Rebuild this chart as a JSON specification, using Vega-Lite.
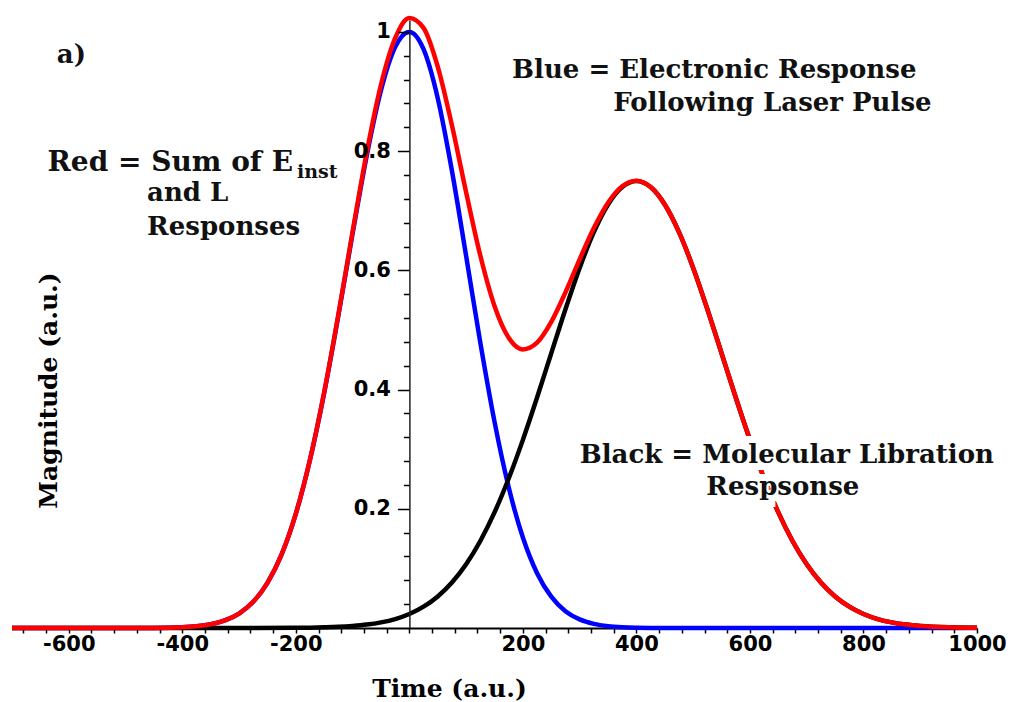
{
  "$schema": "https://vega.github.io/schema/vega-lite/v6.json",
  "width": 965,
  "height": 608,
  "autosize": {"type": "none"},
  "padding": {"left": 12, "top": 20, "right": 36, "bottom": 74},
  "background": "white",
  "config": {"view": {"stroke": null}},
  "datasets": {
    "curves": [
      {"s": "blue", "t": -700, "v": 0}, {"s": "blue", "t": -600, "v": 0}, {"s": "blue", "t": -500, "v": 0}, {"s": "blue", "t": -450, "v": 0.0002},
      {"s": "blue", "t": -400, "v": 0.0013}, {"s": "blue", "t": -375, "v": 0.003}, {"s": "blue", "t": -350, "v": 0.0063}, {"s": "blue", "t": -325, "v": 0.0127},
      {"s": "blue", "t": -300, "v": 0.0243}, {"s": "blue", "t": -275, "v": 0.0439}, {"s": "blue", "t": -250, "v": 0.0756}, {"s": "blue", "t": -225, "v": 0.1234},
      {"s": "blue", "t": -200, "v": 0.1915}, {"s": "blue", "t": -175, "v": 0.2821}, {"s": "blue", "t": -150, "v": 0.3946}, {"s": "blue", "t": -125, "v": 0.5243},
      {"s": "blue", "t": -100, "v": 0.6615}, {"s": "blue", "t": -75, "v": 0.7926}, {"s": "blue", "t": -50, "v": 0.9018}, {"s": "blue", "t": -25, "v": 0.9745},
      {"s": "blue", "t": 0, "v": 1}, {"s": "blue", "t": 25, "v": 0.971}, {"s": "blue", "t": 50, "v": 0.8889}, {"s": "blue", "t": 75, "v": 0.7671},
      {"s": "blue", "t": 100, "v": 0.6242}, {"s": "blue", "t": 125, "v": 0.4788}, {"s": "blue", "t": 150, "v": 0.3463}, {"s": "blue", "t": 175, "v": 0.2361},
      {"s": "blue", "t": 200, "v": 0.1518}, {"s": "blue", "t": 225, "v": 0.092}, {"s": "blue", "t": 250, "v": 0.0526}, {"s": "blue", "t": 275, "v": 0.0283},
      {"s": "blue", "t": 300, "v": 0.0144}, {"s": "blue", "t": 325, "v": 0.0069}, {"s": "blue", "t": 350, "v": 0.0031}, {"s": "blue", "t": 375, "v": 0.0013},
      {"s": "blue", "t": 400, "v": 0.0005}, {"s": "blue", "t": 450, "v": 0}, {"s": "blue", "t": 500, "v": 0}, {"s": "blue", "t": 600, "v": 0},
      {"s": "blue", "t": 700, "v": 0}, {"s": "blue", "t": 800, "v": 0}, {"s": "blue", "t": 900, "v": 0}, {"s": "blue", "t": 1000, "v": 0},

      {"s": "black", "t": -700, "v": 0}, {"s": "black", "t": -600, "v": 0}, {"s": "black", "t": -500, "v": 0}, {"s": "black", "t": -400, "v": 0},
      {"s": "black", "t": -300, "v": 0}, {"s": "black", "t": -200, "v": 0.0003}, {"s": "black", "t": -175, "v": 0.0006}, {"s": "black", "t": -150, "v": 0.0011},
      {"s": "black", "t": -125, "v": 0.0019}, {"s": "black", "t": -100, "v": 0.0034}, {"s": "black", "t": -75, "v": 0.0057}, {"s": "black", "t": -50, "v": 0.0094},
      {"s": "black", "t": -25, "v": 0.015}, {"s": "black", "t": 0, "v": 0.0235}, {"s": "black", "t": 25, "v": 0.0358}, {"s": "black", "t": 50, "v": 0.0529},
      {"s": "black", "t": 75, "v": 0.0763}, {"s": "black", "t": 100, "v": 0.1069}, {"s": "black", "t": 125, "v": 0.146}, {"s": "black", "t": 150, "v": 0.1939},
      {"s": "black", "t": 175, "v": 0.2508}, {"s": "black", "t": 200, "v": 0.3156}, {"s": "black", "t": 225, "v": 0.3866}, {"s": "black", "t": 250, "v": 0.4609},
      {"s": "black", "t": 275, "v": 0.5348}, {"s": "black", "t": 300, "v": 0.6041}, {"s": "black", "t": 325, "v": 0.664}, {"s": "black", "t": 350, "v": 0.7105},
      {"s": "black", "t": 375, "v": 0.7399}, {"s": "black", "t": 400, "v": 0.75}, {"s": "black", "t": 425, "v": 0.7399}, {"s": "black", "t": 450, "v": 0.7105},
      {"s": "black", "t": 475, "v": 0.664}, {"s": "black", "t": 500, "v": 0.6041}, {"s": "black", "t": 525, "v": 0.5348}, {"s": "black", "t": 550, "v": 0.4609},
      {"s": "black", "t": 575, "v": 0.3866}, {"s": "black", "t": 600, "v": 0.3156}, {"s": "black", "t": 625, "v": 0.2508}, {"s": "black", "t": 650, "v": 0.1939},
      {"s": "black", "t": 675, "v": 0.146}, {"s": "black", "t": 700, "v": 0.1069}, {"s": "black", "t": 725, "v": 0.0763}, {"s": "black", "t": 750, "v": 0.0529},
      {"s": "black", "t": 775, "v": 0.0358}, {"s": "black", "t": 800, "v": 0.0235}, {"s": "black", "t": 825, "v": 0.015}, {"s": "black", "t": 850, "v": 0.0094},
      {"s": "black", "t": 875, "v": 0.0057}, {"s": "black", "t": 900, "v": 0.0034}, {"s": "black", "t": 950, "v": 0.0011}, {"s": "black", "t": 1000, "v": 0.0003},

      {"s": "red", "t": -700, "v": 0}, {"s": "red", "t": -600, "v": 0}, {"s": "red", "t": -500, "v": 0}, {"s": "red", "t": -450, "v": 0.0002},
      {"s": "red", "t": -400, "v": 0.0013}, {"s": "red", "t": -375, "v": 0.003}, {"s": "red", "t": -350, "v": 0.0063}, {"s": "red", "t": -325, "v": 0.0127},
      {"s": "red", "t": -300, "v": 0.0243}, {"s": "red", "t": -275, "v": 0.0439}, {"s": "red", "t": -250, "v": 0.0756}, {"s": "red", "t": -225, "v": 0.1236},
      {"s": "red", "t": -200, "v": 0.1918}, {"s": "red", "t": -175, "v": 0.2827}, {"s": "red", "t": -150, "v": 0.3957}, {"s": "red", "t": -125, "v": 0.5262},
      {"s": "red", "t": -100, "v": 0.6649}, {"s": "red", "t": -75, "v": 0.7983}, {"s": "red", "t": -50, "v": 0.9112}, {"s": "red", "t": -25, "v": 0.9895},
      {"s": "red", "t": 0, "v": 1.0235}, {"s": "red", "t": 25, "v": 1.0068}, {"s": "red", "t": 50, "v": 0.9418}, {"s": "red", "t": 75, "v": 0.8434},
      {"s": "red", "t": 100, "v": 0.7311}, {"s": "red", "t": 125, "v": 0.6248}, {"s": "red", "t": 150, "v": 0.5402}, {"s": "red", "t": 175, "v": 0.4869},
      {"s": "red", "t": 200, "v": 0.4674}, {"s": "red", "t": 225, "v": 0.4786}, {"s": "red", "t": 250, "v": 0.5135}, {"s": "red", "t": 275, "v": 0.5631},
      {"s": "red", "t": 300, "v": 0.6185}, {"s": "red", "t": 325, "v": 0.6709}, {"s": "red", "t": 350, "v": 0.7136}, {"s": "red", "t": 375, "v": 0.7412},
      {"s": "red", "t": 400, "v": 0.7505}, {"s": "red", "t": 425, "v": 0.7399}, {"s": "red", "t": 450, "v": 0.7105}, {"s": "red", "t": 475, "v": 0.664},
      {"s": "red", "t": 500, "v": 0.6041}, {"s": "red", "t": 525, "v": 0.5348}, {"s": "red", "t": 550, "v": 0.4609}, {"s": "red", "t": 575, "v": 0.3866},
      {"s": "red", "t": 600, "v": 0.3156}, {"s": "red", "t": 625, "v": 0.2508}, {"s": "red", "t": 650, "v": 0.1939}, {"s": "red", "t": 675, "v": 0.146},
      {"s": "red", "t": 700, "v": 0.1069}, {"s": "red", "t": 725, "v": 0.0763}, {"s": "red", "t": 750, "v": 0.0529}, {"s": "red", "t": 775, "v": 0.0358},
      {"s": "red", "t": 800, "v": 0.0235}, {"s": "red", "t": 825, "v": 0.015}, {"s": "red", "t": 850, "v": 0.0094}, {"s": "red", "t": 875, "v": 0.0057},
      {"s": "red", "t": 900, "v": 0.0034}, {"s": "red", "t": 950, "v": 0.0011}, {"s": "red", "t": 1000, "v": 0.0003}
    ],
    "notes": [
      {"g": "left", "t": -621, "v": 0.961, "label": "a)"},
      {"g": "left", "t": 181, "v": 0.936, "label": "Blue = Electronic Response"},
      {"g": "left", "t": 359, "v": 0.881, "label": "Following Laser Pulse"},
      {"g": "left", "t": -462, "v": 0.73, "label": "and L"},
      {"g": "left", "t": -462, "v": 0.673, "label": "Responses"},
      {"g": "right", "t": -205, "v": 0.78, "label": "Red = Sum of E"},
      {"g": "sub", "t": -198, "v": 0.765, "label": "inst"},
      {"g": "center", "t": 665, "v": 0.29, "label": "Black = Molecular Libration"},
      {"g": "center", "t": 658, "v": 0.237, "label": "Respsonse"}
    ]
  },
  "encoding": {
    "x": {
      "field": "t",
      "type": "quantitative",
      "scale": {"domain": [-700, 1000], "nice": false, "zero": false},
      "axis": {
        "title": "Time  (a.u.)",
        "values": [-680, -640, -600, -560, -520, -480, -440, -400, -360, -320, -280, -240, -200, -160, -120, -80, -40, 0, 40, 80, 120, 160, 200, 240, 280, 320, 360, 400, 440, 480, 520, 560, 600, 640, 680, 720, 760, 800, 840, 880, 920, 960, 1000],
        "labelExpr": "datum.value % 200 === 0 && datum.value !== 0 ? '' + datum.value : ''",
        "labelFont": "DejaVu Sans",
        "labelFontWeight": "bold",
        "labelFontSize": 21,
        "labelColor": "black",
        "labelPadding": 0,
        "labelOverlap": false,
        "labelFlush": false,
        "tickSize": 5,
        "tickColor": "black",
        "tickWidth": 1.5,
        "domainColor": "black",
        "domainWidth": 2,
        "grid": false,
        "titleFont": "DejaVu Serif",
        "titleFontSize": 25,
        "titleFontWeight": "bold",
        "titleColor": "black",
        "titleX": 437,
        "titleY": 60,
        "titleBaseline": "middle",
        "zindex": 0
      }
    },
    "y": {
      "field": "v",
      "type": "quantitative",
      "scale": {"domain": [0, 1.02], "nice": false},
      "axis": {
        "title": "Magnitude (a.u.)",
        "offset": -397.4,
        "values": [0.04, 0.08, 0.12, 0.16, 0.2, 0.24, 0.28, 0.32, 0.36, 0.4, 0.44, 0.48, 0.52, 0.56, 0.6, 0.64, 0.68, 0.72, 0.76, 0.8, 0.84, 0.88, 0.92, 0.96, 1],
        "labelExpr": "indexof([0.2, 0.4, 0.6, 0.8, 1], datum.value) >= 0 ? '' + datum.value : ''",
        "labelFont": "DejaVu Sans",
        "labelFontWeight": "bold",
        "labelFontSize": 21,
        "labelColor": "black",
        "labelPadding": 7,
        "labelOverlap": false,
        "labelFlush": false,
        "tickSize": {"condition": {"test": "indexof([0.2, 0.4, 0.6, 0.8, 1], datum.value) >= 0", "value": 12}, "value": 6},
        "tickColor": "black",
        "tickWidth": 1.5,
        "domainColor": "#222222",
        "domainWidth": 1.5,
        "grid": false,
        "titleFont": "DejaVu Serif",
        "titleFontSize": 25,
        "titleFontWeight": "bold",
        "titleColor": "black",
        "titleX": -361,
        "titleY": 370,
        "titleAngle": 270,
        "titleBaseline": "middle",
        "zindex": 1
      }
    }
  },
  "layer": [
    {
      "data": {"name": "curves"},
      "transform": [{"filter": "datum.s === 'blue'"}],
      "mark": {"type": "line", "color": "#0000FF", "strokeWidth": 4.5, "interpolate": "monotone"}
    },
    {
      "data": {"name": "curves"},
      "transform": [{"filter": "datum.s === 'black'"}],
      "mark": {"type": "line", "color": "#000000", "strokeWidth": 4.5, "interpolate": "monotone"}
    },
    {
      "data": {"name": "curves"},
      "transform": [{"filter": "datum.s === 'red'"}],
      "mark": {"type": "line", "color": "#FF0000", "strokeWidth": 4.5, "interpolate": "monotone"}
    },
    {
      "data": {"name": "notes"},
      "transform": [{"filter": "datum.g === 'left'"}],
      "mark": {"type": "text", "align": "left", "baseline": "middle", "font": "DejaVu Serif", "fontWeight": "bold", "fontSize": 26, "color": "#111111"},
      "encoding": {"text": {"field": "label"}}
    },
    {
      "data": {"name": "notes"},
      "transform": [{"filter": "datum.g === 'right'"}],
      "mark": {"type": "text", "align": "right", "baseline": "middle", "font": "DejaVu Serif", "fontWeight": "bold", "fontSize": 28, "color": "#111111"},
      "encoding": {"text": {"field": "label"}}
    },
    {
      "data": {"name": "notes"},
      "transform": [{"filter": "datum.g === 'sub'"}],
      "mark": {"type": "text", "align": "left", "baseline": "middle", "font": "DejaVu Serif", "fontWeight": "bold", "fontSize": 19, "color": "#111111"},
      "encoding": {"text": {"field": "label"}}
    },
    {
      "data": {"name": "notes"},
      "transform": [{"filter": "datum.g === 'center'"}],
      "mark": {"type": "text", "align": "center", "baseline": "middle", "font": "DejaVu Serif", "fontWeight": "bold", "fontSize": 26, "fill": "white", "stroke": "white", "strokeWidth": 14},
      "encoding": {"text": {"field": "label"}}
    },
    {
      "data": {"name": "notes"},
      "transform": [{"filter": "datum.g === 'center'"}],
      "mark": {"type": "text", "align": "center", "baseline": "middle", "font": "DejaVu Serif", "fontWeight": "bold", "fontSize": 26, "color": "#111111"},
      "encoding": {"text": {"field": "label"}}
    }
  ]
}
